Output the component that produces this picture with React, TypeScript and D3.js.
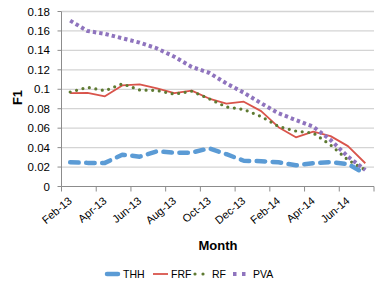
import React from "react";
import { scaleBand, scaleLinear, line } from "d3";

const months = [
  "Feb-13", "Mar-13", "Apr-13", "May-13", "Jun-13", "Jul-13", "Aug-13", "Sep-13", "Oct-13",
  "Nov-13", "Dec-13", "Jan-14", "Feb-14", "Mar-14", "Apr-14", "May-14", "Jun-14", "Jul-14",
];

const thh = [0.0249, 0.0243, 0.0243, 0.0327, 0.0307, 0.0362, 0.0348, 0.0348, 0.0393, 0.0332, 0.0265, 0.026, 0.0249, 0.0218, 0.0239, 0.0252, 0.0231, 0.013];
const frf = [0.096, 0.0962, 0.0928, 0.104, 0.105, 0.101, 0.096, 0.0986, 0.0905, 0.0853, 0.0872, 0.0775, 0.061, 0.0506, 0.0564, 0.0518, 0.0415, 0.0239];
const rf = [0.0972, 0.102, 0.0985, 0.1056, 0.0993, 0.0988, 0.095, 0.098, 0.0903, 0.0818, 0.0792, 0.072, 0.0618, 0.057, 0.055, 0.0427, 0.0273, 0.017];
const pva = [0.1706, 0.16, 0.157, 0.1525, 0.148, 0.142, 0.1335, 0.123, 0.117, 0.106, 0.0965, 0.0856, 0.0753, 0.0684, 0.0615, 0.0478, 0.0307, 0.017];

const yTicks = [0, 0.02, 0.04, 0.06, 0.08, 0.1, 0.12, 0.14, 0.16, 0.18];
const seriesNames = ["THH", "FRF", "RF", "PVA"];

const W = 382;
const H = 286;
const left = 61.5;
const right = 374;
const top = 11.5;
const bottom = 186.5;
const font = "'Liberation Sans', Arial, sans-serif";

const styles = [
  { color: "#5b9bd5", width: 4.5, dash: "8.5 7.5", cap: "round" },
  { color: "#d9544b", width: 1.8, dash: "", cap: "butt" },
  { color: "#5e7a32", width: 3.2, dash: "0 6.6", cap: "round" },
  { color: "#8f74be", width: 4, dash: "3.4 3", cap: "butt" },
];

export default function App() {
  const x = scaleBand<string>().domain(months).range([left, right]).paddingInner(0).paddingOuter(0);
  const y = scaleLinear().domain([0, 0.18]).range([bottom, top]);
  const cx = (m: string) => (x(m) as number) + x.bandwidth() / 2;

  const series = [thh, frf, rf, pva];
  const path = line<number>()
    .x((_, i) => cx(months[i]))
    .y((d) => y(d));

  const tickXs = months.filter((_, i) => i % 2 === 0).map((m) => x(m) as number).concat([right]);
  const labelMonths = months.filter((_, i) => i % 2 === 0);

  const legendX = [105, 153, 195, 233];
  const legendY = 274;

  return (
    <svg width={W} height={H} style={{ position: "absolute", left: 0, top: 0, background: "#fff" }}>
      {yTicks.slice(1).map((t) => (
        <line key={t} x1={left} x2={right} y1={y(t)} y2={y(t)} stroke="#d4d4d4" strokeWidth={1.3} />
      ))}
      {yTicks.map((t) => (
        <g key={"yl" + t}>
          <line x1={left - 4} x2={left} y1={y(t)} y2={y(t)} stroke="#8c8c8c" />
          <text x={50} y={y(t)} dy="0.35em" textAnchor="end" fontFamily={font} fontSize={11.5} fill="#000">
            {t === 0 ? "0" : String(+t.toFixed(2))}
          </text>
        </g>
      ))}
      <line x1={left} x2={left} y1={top} y2={bottom} stroke="#8c8c8c" />
      <line x1={left} x2={right} y1={bottom} y2={bottom} stroke="#8c8c8c" />
      {tickXs.map((tx, i) => (
        <line key={"xt" + i} x1={tx} x2={tx} y1={bottom} y2={bottom + 5} stroke="#8c8c8c" />
      ))}
      {labelMonths.map((m) => (
        <text
          key={m}
          transform={`translate(${cx(m) + 2.5},${bottom + 15.5}) rotate(-40)`}
          textAnchor="end"
          fontFamily={font}
          fontSize={11}
          fill="#000"
        >
          {m}
        </text>
      ))}
      <text
        transform={`translate(21.5,97.5) rotate(-90)`}
        textAnchor="middle"
        fontFamily={font}
        fontSize={13}
        fontWeight="bold"
      >
        F1
      </text>
      <text x={218} y={250} textAnchor="middle" fontFamily={font} fontSize={13} fontWeight="bold">
        Month
      </text>

      {series.map((s, k) => (
        <path
          key={seriesNames[k]}
          d={path(s) ?? ""}
          fill="none"
          stroke={styles[k].color}
          strokeWidth={styles[k].width}
          strokeDasharray={styles[k].dash || undefined}
          strokeLinecap={styles[k].cap as any}
          strokeLinejoin="round"
        />
      ))}

      {seriesNames.map((n, k) => (
        <g key={"lg" + n}>
          <line
            x1={legendX[k] + (k === 0 ? 2 : 0)}
            x2={legendX[k] + (k === 0 ? 13 : 15)}
            y1={legendY}
            y2={legendY}
            stroke={styles[k].color}
            strokeWidth={styles[k].width}
            strokeDasharray={k === 2 ? "0 8" : k === 3 ? "3.5 5.5" : undefined}
            strokeLinecap={styles[k].cap as any}
          />
          <text x={legendX[k] + (k === 2 ? 17 : k === 3 ? 20 : 18)} y={legendY} dy="0.36em" fontFamily={font} fontSize={10.5}>
            {n}
          </text>
        </g>
      ))}
    </svg>
  );
}
